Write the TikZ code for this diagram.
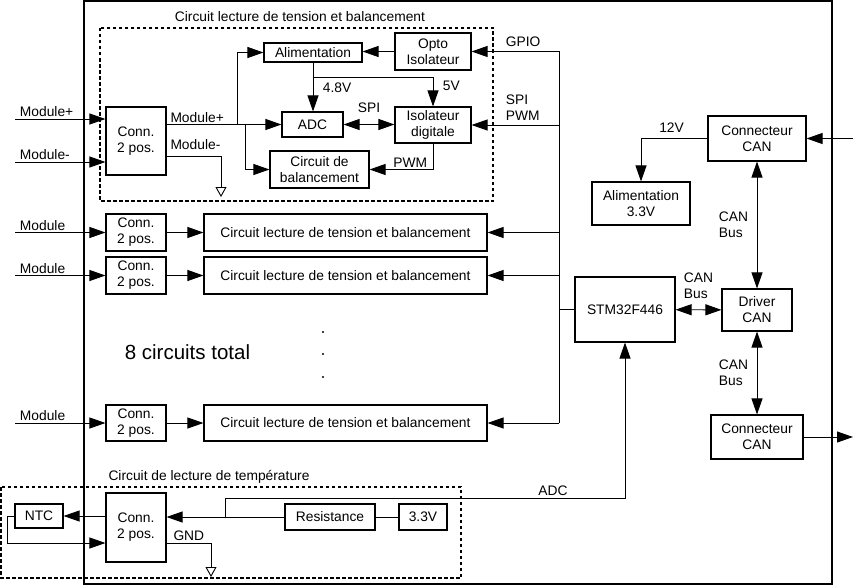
\documentclass[tikz,border=0pt]{standalone}
\usepackage{fontspec}
\setmainfont{Liberation Sans}
\usetikzlibrary{positioning,arrows.meta,calc}

\begin{document}
\begin{tikzpicture}[
  x=1pt,y=-1pt,
  font=\fontsize{13.8}{16}\selectfont,
  box/.style={draw,line width=1.1pt,align=center,inner sep=1pt},
  grp/.style={draw,line width=1.4pt,dash pattern=on 3.5pt off 2.5pt},
  ln/.style={line width=0.9pt},
  ar/.style={ln,-{Triangle[length=16pt,width=11pt]}},
  dar/.style={ln,{Triangle[length=16pt,width=11pt]}-{Triangle[length=16pt,width=11pt]}},
  gnd/.style={ln,-{Triangle[open,length=10pt,width=11pt]}},
  lbl/.style={inner sep=1.5pt},
  inlbl/.style={lbl,above right,xshift=3pt}
]
\useasboundingbox (0,0) rectangle (853,586);
\draw[line width=1.3pt] (84,1) rectangle (832,584);
\draw[grp] (100,28) rectangle (493,201);
\draw[grp] (1,487) rectangle (461,578);
\node[anchor=base] (ttop)  at (300,22)  {Circuit lecture de tension et balancement};
\node[anchor=base] (ttemp) at (209,480) {Circuit de lecture de température};
% module 1
\node[box,minimum width=60pt,minimum height=68pt] (connA) at (136,141)   {Conn.\\2 pos.};
\node[box,minimum width=98pt,minimum height=19pt] (alim)  at (313,52.5)  {Alimentation};
\node[box,minimum width=76pt,minimum height=37pt] (opto)  at (433,51.5)  {Opto\\Isolateur};
\node[box,minimum width=76pt,minimum height=36pt] (iso)   at (433,125)   {Isolateur\\digitale};
\node[box,minimum width=61pt,minimum height=25pt] (adc)   at (312.5,124.5) {ADC};
\node[box,minimum width=99pt,minimum height=37pt] (bal)   at (319.5,169.5) {Circuit de\\balancement};
% modules 2..8
\node[box,minimum width=60pt,minimum height=37pt]  (connB) at (136,232.5)   {Conn.\\2 pos.};
\node[box,minimum width=283pt,minimum height=37pt] (circB) at (345.5,232.5) {Circuit lecture de tension et balancement};
\node[box,minimum width=60pt,minimum height=37pt]  (connC) at (136,275.5)   {Conn.\\2 pos.};
\node[box,minimum width=283pt,minimum height=37pt] (circC) at (345.5,275.5) {Circuit lecture de tension et balancement};
\node[box,minimum width=60pt,minimum height=36pt]  (connD) at (136,423)     {Conn.\\2 pos.};
\node[box,minimum width=283pt,minimum height=36pt] (circD) at (345.5,423)   {Circuit lecture de tension et balancement};
\fill (323,332) circle (1.1pt) (323,354) circle (1.1pt) (323,377) circle (1.1pt);
\node[anchor=base,font=\fontsize{20.5}{24}\selectfont] (tot) at (187.5,359) {8 circuits total};
% micro + CAN
\node[box,minimum width=100pt,minimum height=65pt] (stm)    at (625,309.5) {STM32F446};
\node[box,minimum width=70pt,minimum height=42pt]  (drv)    at (757,310)   {Driver\\CAN};
\node[box,minimum width=98pt,minimum height=45pt]  (cantop) at (757,138.5) {Connecteur\\CAN};
\node[box,minimum width=98pt,minimum height=43pt]  (alim33) at (641,203.5) {Alimentation\\3.3V};
\node[box,minimum width=92pt,minimum height=44pt]  (canbot) at (757,437)   {Connecteur\\CAN};
% temperature
\node[box,minimum width=60pt,minimum height=69pt] (connT) at (136,527.5) {Conn.\\2 pos.};
\node[box,minimum width=48pt,minimum height=24pt] (ntc)   at (39,516)    {NTC};
\node[box,minimum width=90pt,minimum height=26pt] (res)   at (330,517)   {Resistance};
\node[box,minimum width=48pt,minimum height=26pt] (v33)   at (423,517)   {3.3V};

\coordinate (inP) at (15,119);
\coordinate (inM) at (15,162);
\coordinate (jA) at (237,124.5);
\coordinate (jB) at (245,124.5);
\coordinate (gA) at (221,197);
\coordinate (bus) at (559,0);
\draw[ar] (inP) node[inlbl] (lmp) {Module+} -- (inP -| connA.west);
\draw[ar] (inM) node[inlbl] (lmm) {Module-} -- (inM -| connA.west);
\draw[ar] (connA.east |- adc.west) node[lbl,above right,xshift=2pt] (lop) {Module+} -- (adc.west);
\draw[ar] (jA) |- (alim.west);
\draw[ar] (jB) |- (bal.west);
\draw[gnd] ($(connA.east)+(0,15)$) node[lbl,above right,xshift=2pt,yshift=4pt] (lom) {Module-} -| (gA);
\draw[ar] (opto.west) -- (opto.west -| alim.east);
\draw[ar] (alim.south) -- node[lbl,right=8pt,pos=0.52] (l48) {4.8V} (alim.south |- adc.north);
\draw[ar] ($(alim.south)+(0,15)$) -| node[lbl,right=8pt,pos=0.65] (l5) {5V} (iso.north);
\draw[dar] (adc.east) -- node[lbl,above=10pt] (lspi) {SPI} (adc.east -| iso.west);
\draw[ar] (iso.south) |- node[lbl,above,pos=0.68] (lpwm) {PWM} (bal.east);
\draw[ar] (opto.east -| bus) -- node[lbl,anchor=south west,pos=0.63,yshift=3pt] (lgpio) {GPIO} (opto.east);
\draw[ar] (iso.east -| bus) -- node[lbl,anchor=south west,pos=0.63,yshift=3pt,align=left] (lsp) {SPI\\PWM} (iso.east);
\draw[ln] (opto.east -| bus) -- (circD.east -| bus);
\draw[ar] (connB.west -| inP) node[inlbl] (lmb) {Module} -- (connB.west);
\draw[ar] (connC.west -| inP) node[inlbl] (lmc) {Module} -- (connC.west);
\draw[ar] (connD.west -| inP) node[inlbl] (lmd) {Module} -- (connD.west);
\draw[ar] (connB) -- (circB);
\draw[ar] (connC) -- (circC);
\draw[ar] (connD) -- (circD);
\draw[ar] (circB.east -| bus) -- (circB.east);
\draw[ar] (circC.east -| bus) -- (circC.east);
\draw[ar] (circD.east -| bus) -- (circD.east);
\draw[ln] (stm.west -| bus) -- (stm.west);

\coordinate (canIn) at (853,138.5);
\coordinate (canOut) at (853,437);
\draw[dar] (stm) -- node[lbl,above=9pt,align=left] (lcan1) {CAN\\Bus} (drv);
\draw[dar] (cantop) -- node[lbl,left=7pt,align=left] (lcan2) {CAN\\Bus} (drv);
\draw[dar] (drv) -- node[lbl,left=7pt,align=left] (lcan3) {CAN\\Bus} (canbot);
\draw[ar] (cantop.west) -| node[lbl,above=4pt,pos=0.27] (l12) {12V} (alim33.north);
\draw[ar] (canIn) -- (cantop.east);
\draw[ar] (canbot.east) -- (canOut);

\coordinate (ntcR) at (7,543);
\coordinate (adcL) at (225,498);
\coordinate (gB) at (211,577);
\draw[ar] (connT.west |- ntc) -- (ntc.east);
\draw[ar] (ntc.west) -| (ntcR) -- (ntcR -| connT.west);
\draw[ar] (res.west) -- (res.west -| connT.east);
\draw[ln] (res) -- (v33);
\draw[ar] (adcL |- res.west) -- (adcL) -| node[lbl,above,pos=0.41] (ladc) {ADC} (stm.south);
\draw[gnd] ($(connT.east)+(0,15.5)$) node[lbl,above right,xshift=5pt] (lgnd) {GND} -| (gB);
\end{tikzpicture}
\end{document}
